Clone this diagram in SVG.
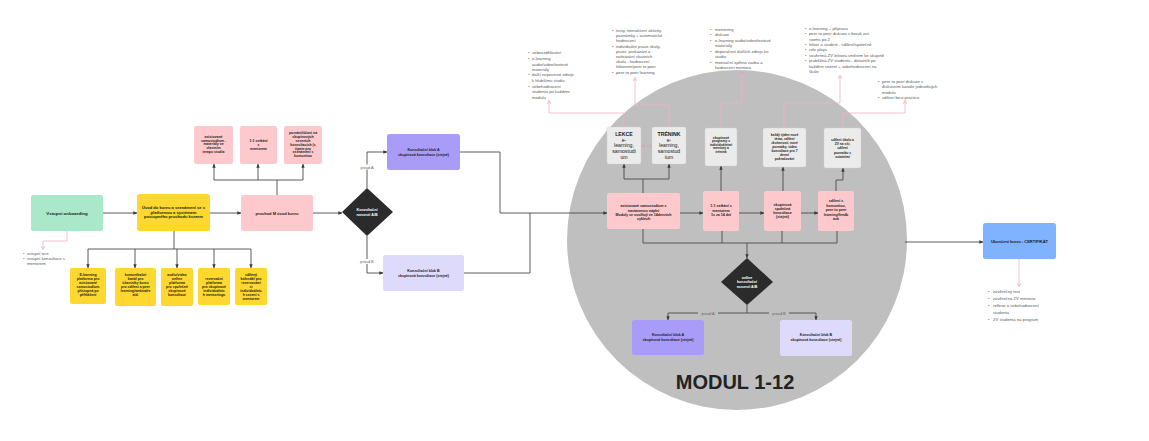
<svg xmlns="http://www.w3.org/2000/svg" width="1149" height="441" viewBox="0 0 1149 441">
<style>
text{font-family:"Liberation Sans",Arial,sans-serif}
.t{font-weight:bold;fill:#1b1b1b;text-anchor:middle}
.w{font-weight:bold;fill:#ffffff;text-anchor:middle}
.g{fill:#1b1b1b;text-anchor:middle}
.a{fill:#5a5a5a;font-size:4.2px}
.lb{fill:#666;font-size:3.8px;text-anchor:middle}
.c{fill:none;stroke:#4a4a4a;stroke-width:0.9;stroke-linejoin:round}
.p{fill:none;stroke:#f2b3c1;stroke-width:0.8}
.yel{fill:#fed72f}
.pnk{fill:#fec9cc}
.gry{fill:#ebebeb;stroke:#d2d2d2;stroke-width:0.4}
</style>
<defs>
<marker id="ah" viewBox="0 0 6 6" refX="5.5" refY="3" markerWidth="4" markerHeight="4" orient="auto" markerUnits="userSpaceOnUse"><path d="M0,0.5 L6,3 L0,5.5 z" fill="#3a3a3a"/></marker>
<marker id="pa" viewBox="0 0 6 6" refX="3" refY="3" markerWidth="4.5" markerHeight="4.5" orient="auto-start-reverse" markerUnits="userSpaceOnUse"><path d="M0.5,0.5 L5,3 L0.5,5.5" fill="none" stroke="#f095aa" stroke-width="0.9"/></marker>
</defs>
<rect width="1149" height="441" fill="#ffffff"/>

<g id="modul-circle">
<circle cx="737" cy="240" r="170" fill="#bfbfbf"/>
<text x="735" y="388.5" font-size="20" font-weight="bold" fill="#222" text-anchor="middle">MODUL 1-12</text>
</g>

<g id="connectors">
<path class="c" d="M103,213 H137" marker-end="url(#ah)"/>
<path class="c" d="M174,231 V249 M88,249 H251"/>
<path class="c" d="M88,249 V268" marker-end="url(#ah)"/>
<path class="c" d="M135,249 V268" marker-end="url(#ah)"/>
<path class="c" d="M177,249 V268" marker-end="url(#ah)"/>
<path class="c" d="M214,249 V268" marker-end="url(#ah)"/>
<path class="c" d="M251,249 V268" marker-end="url(#ah)"/>
<path class="c" d="M210,213 H241" marker-end="url(#ah)"/>
<path class="c" d="M277,195 V180 M214,180 H303"/>
<path class="c" d="M214,180 V164" marker-end="url(#ah)"/>
<path class="c" d="M258,180 V164" marker-end="url(#ah)"/>
<path class="c" d="M303,180 V164" marker-end="url(#ah)"/>
<path class="c" d="M313,213 H342" marker-end="url(#ah)"/>
<path class="c" d="M367,188 V152 H387" marker-end="url(#ah)"/>
<path class="c" d="M367,236 V273 H383" marker-end="url(#ah)"/>
<rect x="357" y="164.5" width="20" height="5" fill="#ffffff"/>
<text class="lb" x="367" y="168.5">proud A</text>
<rect x="357" y="259" width="20" height="5" fill="#ffffff"/>
<text class="lb" x="367" y="263">proud B</text>
<path class="c" d="M460,152 H500 V213 H607" marker-end="url(#ah)"/>
<path class="c" d="M464,273 H530 V213"/>
<path class="c" d="M680,213 H703" marker-end="url(#ah)"/>
<path class="c" d="M739,213 H764" marker-end="url(#ah)"/>
<path class="c" d="M801,213 H818" marker-end="url(#ah)"/>
<path class="c" d="M643,193 V179 M624,179 H669"/>
<path class="c" d="M624,179 V164" marker-end="url(#ah)"/>
<path class="c" d="M669,179 V164" marker-end="url(#ah)"/>
<path class="c" d="M721,191 V166" marker-end="url(#ah)"/>
<path class="c" d="M783,191 V167" marker-end="url(#ah)"/>
<path class="c" d="M836,191 V180 H843 V168" marker-end="url(#ah)"/>
<path class="c" d="M643,229 V243 H837 V231 M722,231 V243 M782,231 V243"/>
<path class="c" d="M747,243 V258" marker-end="url(#ah)"/>
<path class="c" d="M747,305 V313 M668,313 H816"/>
<path class="c" d="M668,313 V320" marker-end="url(#ah)"/>
<path class="c" d="M816,313 V320" marker-end="url(#ah)"/>
<rect x="698" y="311" width="20" height="4.5" fill="#bfbfbf"/>
<text class="lb" x="708" y="314.5">proud A</text>
<rect x="769" y="311" width="20" height="4.5" fill="#bfbfbf"/>
<text class="lb" x="779" y="314.5">proud B</text>
<path class="c" d="M905,242 H983" marker-end="url(#ah)"/>
<path d="M642,146 H651" fill="none" stroke="#f095aa" stroke-width="0.8" stroke-dasharray="1.5 1" marker-start="url(#pa)" marker-end="url(#pa)"/>
<path class="p" d="M67,231 V241 H43 V248" marker-end="url(#pa)"/>
<path class="p" d="M624,127 V113 H549 V102" marker-end="url(#pa)"/>
<path class="p" d="M669,127 V105 H635 V79" marker-end="url(#pa)"/>
<path class="p" d="M721,128 V103 H742 V73" marker-end="url(#pa)"/>
<path class="p" d="M784,128 V103 H840 V77" marker-end="url(#pa)"/>
<path class="p" d="M843,128 V113 H905 V102" marker-end="url(#pa)"/>
<path class="p" d="M1019,259 V285" marker-end="url(#pa)"/>
</g>

<g id="vstupni-onboarding">
<rect x="31" y="195" width="72" height="36" rx="2.5" fill="#a9e9c9"/>
<text class="t" x="67" y="214.5" font-size="4.4">Vstupní onboarding</text>
</g>
<g id="vstupni-poznamky">
<text class="a" font-size="4"><tspan x="23" y="255.4">•</tspan><tspan x="27">vstupní test</tspan><tspan x="23" y="260.4">•</tspan><tspan x="27">vstupní konzultace s</tspan><tspan x="27" y="264.9">mentorem</tspan></text>
</g>

<g id="uvod-do-kurzu">
<rect class="yel" x="137" y="194" width="73" height="37" rx="2.5"/>
<text class="t" font-size="4.1"><tspan x="173.5" y="209">Úvod do kurzu a seznámení se s</tspan><tspan x="173.5" y="213.7">platformou a systémem</tspan><tspan x="173.5" y="218.4">postupného průchodu kurzem</tspan></text>
</g>

<g id="y-elearning">
<rect class="yel" x="70" y="268" width="36" height="36" rx="2"/>
<text class="t" font-size="3.5"><tspan x="88" y="276.2">E-learning</tspan><tspan x="88" dy="3.9">platforma pro</tspan><tspan x="88" dy="3.9">asistované</tspan><tspan x="88" dy="3.9">samostudium</tspan><tspan x="88" dy="3.9">přístupná po</tspan><tspan x="88" dy="3.9">přihlášení</tspan></text>
</g>
<g id="y-komunikacni">
<rect class="yel" x="115" y="268" width="41" height="38" rx="2"/>
<text class="t" font-size="3.5"><tspan x="135.5" y="276.3">komunikační</tspan><tspan x="135.5" dy="4">kanál pro</tspan><tspan x="135.5" dy="4">účastníky kurzu</tspan><tspan x="135.5" dy="4">pro sdílení a peer</tspan><tspan x="135.5" dy="4">learning/webináře</tspan><tspan x="135.5" dy="4">atd.</tspan></text>
</g>
<g id="y-audiovideo">
<rect class="yel" x="161" y="268" width="32" height="38" rx="2"/>
<text class="t" font-size="3.5"><tspan x="177" y="276.3">audio/video</tspan><tspan x="177" dy="4">online</tspan><tspan x="177" dy="4">platforma</tspan><tspan x="177" dy="4">pro společné</tspan><tspan x="177" dy="4">skupinové</tspan><tspan x="177" dy="4">konzultace</tspan></text>
</g>
<g id="y-rezervacni">
<rect class="yel" x="198" y="268" width="32" height="37" rx="2"/>
<text class="t" font-size="3.5"><tspan x="214" y="279.6">rezervační</tspan><tspan x="214" dy="4.2">platforma</tspan><tspan x="214" dy="4.2">pro skupinové</tspan><tspan x="214" dy="4.2">individuálníc</tspan><tspan x="214" dy="4.2">h mentoringů</tspan></text>
</g>
<g id="y-kalendar">
<rect class="yel" x="235" y="268" width="32" height="37" rx="2"/>
<text class="t" font-size="3.5"><tspan x="251" y="276.3">sdílený</tspan><tspan x="251" dy="3.9">kalendář pro</tspan><tspan x="251" dy="3.9">rezervování</tspan><tspan x="251" dy="3.9">si</tspan><tspan x="251" dy="3.9">individuálníc</tspan><tspan x="251" dy="3.9">h sezení s</tspan><tspan x="251" dy="3.9">mentorem</tspan></text>
</g>

<g id="pruchod-m">
<rect class="pnk" x="241" y="195" width="72" height="36" rx="2"/>
<text class="t" x="277" y="214.5" font-size="4">průchod M úvod kurzu</text>
</g>
<g id="p-samostudium">
<rect class="pnk" x="194" y="126" width="39" height="38" rx="2"/>
<text class="t" font-size="3.5"><tspan x="213.5" y="137.7">asistované</tspan><tspan x="213.5" dy="3.8">samostudium -</tspan><tspan x="213.5" dy="3.8">materiály ve</tspan><tspan x="213.5" dy="3.8">vlastním</tspan><tspan x="213.5" dy="3.8">tempu studia</tspan></text>
</g>
<g id="p-setkani">
<rect class="pnk" x="240" y="126" width="37" height="38" rx="2"/>
<text class="t" font-size="3.5"><tspan x="258.5" y="142.3">1:1 setkání</tspan><tspan x="258.5" dy="4">s</tspan><tspan x="258.5" dy="4">mentorem</tspan></text>
</g>
<g id="p-skupinova">
<rect class="pnk" x="284" y="126" width="38" height="38" rx="2"/>
<text class="t" font-size="3.5"><tspan x="303" y="134.4">pozvání/účast na</tspan><tspan x="303" dy="3.8">skupinových</tspan><tspan x="303" dy="3.8">sezeních</tspan><tspan x="303" dy="3.8">konzultacích (s</tspan><tspan x="303" dy="3.8">tipem pro</tspan><tspan x="303" dy="3.8">seznámení s</tspan><tspan x="303" dy="3.8">komunitou</tspan></text>
</g>

<g id="rozcesti-1">
<polygon points="367,188 393,212 367,236 342,212" fill="#2b2b2b"/>
<text class="w" font-size="3.7"><tspan x="367" y="210.5">Konzultační</tspan><tspan x="367" y="215.5">rozcestí A/B</tspan></text>
</g>
<g id="blok-a-1">
<rect x="387" y="134" width="73" height="36" rx="2.5" fill="#a99cf8"/>
<text class="t" font-size="3.6"><tspan x="423.5" y="150.5">Konzultační blok A</tspan><tspan x="423.5" y="155.5">skupinová konzultace (stejné)</tspan></text>
</g>
<g id="blok-b-1">
<rect x="383" y="255" width="81" height="36" rx="2.5" fill="#dedafc"/>
<text class="t" font-size="3.6"><tspan x="423.5" y="272">Konzultační blok B</tspan><tspan x="423.5" y="276.5">skupinová konzultace (stejné)</tspan></text>
</g>

<g id="lekce">
<rect class="gry" x="607" y="127" width="34" height="37" rx="2"/>
<text class="g" font-size="5.2"><tspan x="624" y="135.8" font-weight="bold">LEKCE</tspan><tspan x="624" dy="5.8">e-</tspan><tspan x="624" dy="5.8">learning,</tspan><tspan x="624" dy="5.8">samostudi</tspan><tspan x="624" dy="5.8">um</tspan></text>
</g>
<g id="trenink">
<rect class="gry" x="652" y="127" width="34" height="37" rx="2"/>
<text class="g" font-size="5.2"><tspan x="669" y="135.8" font-weight="bold">TRÉNINK</tspan><tspan x="669" dy="5.8">e-</tspan><tspan x="669" dy="5.8">learning,</tspan><tspan x="669" dy="5.8">samostud</tspan><tspan x="669" dy="5.8">ium</tspan></text>
</g>
<g id="g-skupinove">
<rect class="gry" x="705" y="128" width="32" height="38" rx="2"/>
<text class="t" font-size="3.3"><tspan x="721" y="138.6">skupinové</tspan><tspan x="721" dy="3.6">programy s</tspan><tspan x="721" dy="3.6">individuálními</tspan><tspan x="721" dy="3.6">mentory a</tspan><tspan x="721" dy="3.6">trénink</tspan></text>
</g>
<g id="g-tyden">
<rect class="gry" x="763" y="128" width="43" height="39" rx="2"/>
<text class="t" font-size="3.3"><tspan x="784.5" y="136.3">každý týden nové</tspan><tspan x="784.5" dy="4">téma, sdílení</tspan><tspan x="784.5" dy="4">zkušeností, nové</tspan><tspan x="784.5" dy="4">poznatky, video</tspan><tspan x="784.5" dy="4">konzultace pro 7</tspan><tspan x="784.5" dy="4">denní</tspan><tspan x="784.5" dy="4">pokračování</tspan></text>
</g>
<g id="g-sdileni">
<rect class="gry" x="824" y="128" width="37" height="40" rx="2"/>
<text class="t" font-size="3.3"><tspan x="842.5" y="140.6">sdílení úkolů a</tspan><tspan x="842.5" dy="4.35">ZV na síti,</tspan><tspan x="842.5" dy="4.35">sdílení</tspan><tspan x="842.5" dy="4.35">poznatků s</tspan><tspan x="842.5" dy="4.35">ostatními</tspan></text>
</g>

<g id="c-samostudium">
<rect class="pnk" x="607" y="193" width="73" height="36" rx="2"/>
<text class="t" font-size="3.6"><tspan x="643.5" y="207.3">asistované samostudium s</tspan><tspan x="643.5" dy="4.3">nastavenou náplní</tspan><tspan x="643.5" dy="4.3">Moduly se uvolňují ve 14denních</tspan><tspan x="643.5" dy="4.3">cyklech</tspan></text>
</g>
<g id="c-setkani">
<rect class="pnk" x="703" y="191" width="36" height="40" rx="2"/>
<text class="t" font-size="3.6"><tspan x="721" y="207.4">1:1 setkání s</tspan><tspan x="721" dy="4.2">mentorem</tspan><tspan x="721" dy="4.2">1x za 14 dní</tspan></text>
</g>
<g id="c-skupinova">
<rect class="pnk" x="764" y="191" width="37" height="40" rx="2"/>
<text class="t" font-size="3.6"><tspan x="782.5" y="205.6">skupinová</tspan><tspan x="782.5" dy="4.1">společná</tspan><tspan x="782.5" dy="4.1">konzultace</tspan><tspan x="782.5" dy="4.1">(stejné)</tspan></text>
</g>
<g id="c-komunita">
<rect class="pnk" x="818" y="191" width="36" height="40" rx="2"/>
<text class="t" font-size="3.6"><tspan x="836" y="202">sdílení s</tspan><tspan x="836" dy="4.5">komunitou,</tspan><tspan x="836" dy="4.5">peer to peer</tspan><tspan x="836" dy="4.5">learning/feedb</tspan><tspan x="836" dy="4.5">ack</tspan></text>
</g>

<g id="rozcesti-2">
<polygon points="747,258 773,282 747,305 721,282" fill="#2b2b2b"/>
<text class="w" font-size="3.6"><tspan x="747" y="278.6">online</tspan><tspan x="747" dy="4.7">konzultační</tspan><tspan x="747" dy="4.7">rozcestí A/B</tspan></text>
</g>
<g id="blok-a-2">
<rect x="632" y="320" width="72" height="35" rx="2.5" fill="#a99cf8"/>
<text class="t" font-size="3.6"><tspan x="668" y="336.3">Konzultační blok A</tspan><tspan x="668" y="341.3">skupinová konzultace (stejné)</tspan></text>
</g>
<g id="blok-b-2">
<rect x="780" y="320" width="72" height="36" rx="2.5" fill="#dedafc"/>
<text class="t" font-size="3.6"><tspan x="816" y="336.3">Konzultační blok B</tspan><tspan x="816" y="341.3">skupinová konzultace (stejné)</tspan></text>
</g>

<g id="ukonceni">
<rect x="983" y="223" width="73" height="36" rx="2.5" fill="#80b3ff"/>
<text class="t" x="1019.5" y="242.5" font-size="4">Ukončení kurzu - CERTIFIKÁT</text>
</g>

<g id="pozn-lekce">
<text class="a"><tspan x="528" y="53.5">•</tspan><tspan x="532">sebevzdělávání</tspan><tspan x="528" y="60">•</tspan><tspan x="532">e-learning</tspan><tspan x="532" y="65.5">audio/video/textové</tspan><tspan x="532" y="70.5">materiály</tspan><tspan x="528" y="76">•</tspan><tspan x="532">další nepovinné zdroje</tspan><tspan x="532" y="82">k hlubšímu studiu</tspan><tspan x="528" y="87.5">•</tspan><tspan x="532">sebehodnocení</tspan><tspan x="532" y="93">studenta po každém</tspan><tspan x="532" y="98.5">modulu</tspan></text>
</g>
<g id="pozn-trenink">
<text class="a"><tspan x="612" y="31.5">•</tspan><tspan x="616">testy, interaktivní aktivity,</tspan><tspan x="616" y="37">poznámky + automatické</tspan><tspan x="616" y="42.3">hodnocení</tspan><tspan x="612" y="47.5">•</tspan><tspan x="616">individuální praxe úkoly,</tspan><tspan x="616" y="52.5">psaní, prokázání a</tspan><tspan x="616" y="57.5">nahrávání vlastních</tspan><tspan x="616" y="62.5">úkolů - hodnocení</tspan><tspan x="616" y="68">lektorem/peer to peer</tspan><tspan x="612" y="73.5">•</tspan><tspan x="616">peer to peer learning</tspan></text>
</g>
<g id="pozn-mentoring">
<text class="a"><tspan x="710" y="30.5">•</tspan><tspan x="715">mentoring</tspan><tspan x="710" y="36">•</tspan><tspan x="715">diskuze</tspan><tspan x="710" y="41.5">•</tspan><tspan x="715">e-learning audio/video/textové</tspan><tspan x="715" y="47">materiály</tspan><tspan x="710" y="52.5">•</tspan><tspan x="715">doporučení dalších zdrojů ke</tspan><tspan x="715" y="58">studiu</tspan><tspan x="710" y="63.5">•</tspan><tspan x="715">motivační zpětná vazba a</tspan><tspan x="715" y="69">hodnocení mentora</tspan></text>
</g>
<g id="pozn-skupinova">
<text class="a"><tspan x="805" y="29.5">•</tspan><tspan x="809">e-learning + příprava</tspan><tspan x="805" y="35">•</tspan><tspan x="809">peer to peer diskuze v break out</tspan><tspan x="809" y="40.5">rooms po 2</tspan><tspan x="805" y="45.5">•</tspan><tspan x="809">lektor a student - sdílení/společně</tspan><tspan x="805" y="51">•</tspan><tspan x="809">role plays</tspan><tspan x="805" y="56.5">•</tspan><tspan x="809">souhrnná ZV lektora směrem ke skupině</tspan><tspan x="805" y="62">•</tspan><tspan x="809">průběžná ZV studentů - dotazník po</tspan><tspan x="809" y="67.5">každém sezení + sebehodnocení na</tspan><tspan x="809" y="73">škále</tspan></text>
</g>
<g id="pozn-komunita">
<text class="a"><tspan x="878" y="82.5">•</tspan><tspan x="882">peer to peer diskuze v</tspan><tspan x="882" y="88">diskusním kanále jednotlivých</tspan><tspan x="882" y="93.5">modulů</tspan><tspan x="878" y="99">•</tspan><tspan x="882">sdílení best practice</tspan></text>
</g>
<g id="pozn-ukonceni">
<text class="a" font-size="5"><tspan x="988" y="292.8">•</tspan><tspan x="993">závěrečný test</tspan><tspan x="988" y="299.8">•</tspan><tspan x="993">závěrečná ZV mentora</tspan><tspan x="988" y="306.8">•</tspan><tspan x="993">reflexe a sebehodnocení</tspan><tspan x="993" y="313.8">studenta</tspan><tspan x="988" y="321.3">•</tspan><tspan x="993">ZV studenta na program</tspan></text>
</g>
</svg>
